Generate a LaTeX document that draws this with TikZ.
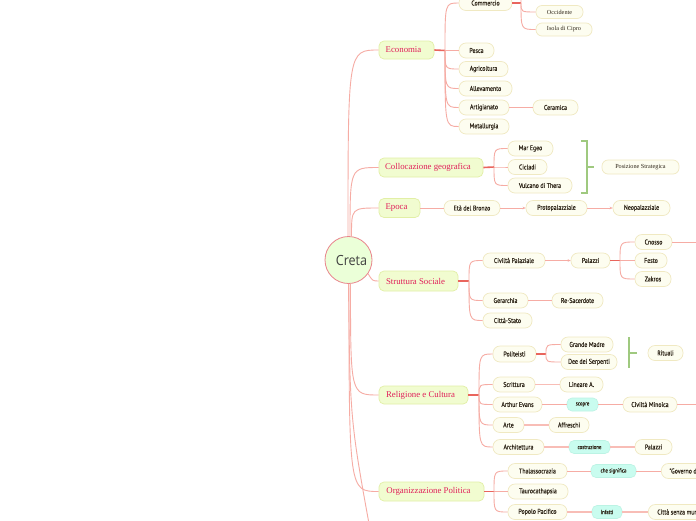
\documentclass[tikz,border=0pt]{standalone}
\usepackage{fontspec}
\setmainfont{Liberation Serif}
\newfontfamily\kidfont[FakeStretch=0.84,FakeBold=0.3]{PT Sans}
\newfontfamily\cretafont[FakeStretch=0.9]{Open Sans}
\usetikzlibrary{arrows.meta,calc}
\definecolor{kidfill}{HTML}{FDFDF0}
\definecolor{kidborder}{HTML}{F0E9C2}
\definecolor{kidtext}{HTML}{2E2518}
\definecolor{mainfill}{HTML}{F1FCD0}
\definecolor{mainborder}{HTML}{E2EFA6}
\definecolor{maintext}{HTML}{E01F5A}
\definecolor{cyanfill}{HTML}{C9FCEF}
\definecolor{cyanborder}{HTML}{BCF3E4}
\definecolor{linkpink}{HTML}{F6ACA4}
\definecolor{stubred}{HTML}{E9655D}
\definecolor{brgreen}{HTML}{9FC97F}
\definecolor{cretafill}{HTML}{EBFFD8}
\definecolor{cretaborder}{HTML}{E9848C}
\begin{document}
\begin{tikzpicture}[x=1pt,y=-1pt,
  kid/.style={draw=kidborder, fill=kidfill, rounded corners=7pt, minimum height=15pt, inner sep=0pt, line width=0.7pt, text=kidtext, font=\kidfont\fontsize{7}{8}\selectfont},
  skid/.style={kid, minimum height=13pt, rounded corners=6pt, font=\fontsize{6.2}{7}\selectfont},
  cy/.style={draw=cyanborder, fill=cyanfill, rounded corners=5pt, minimum height=13pt, inner sep=0pt, line width=0.6pt, text=kidtext, font=\kidfont\fontsize{5.8}{6}\selectfont},
  mainb/.style={draw=mainborder, fill=mainfill, rounded corners=5pt, minimum height=19pt, inner sep=0pt, line width=0.7pt, text=maintext, font=\fontsize{8.8}{10}\selectfont, execute at end node={\hspace*{6pt}}},
  conn/.style={draw=linkpink, line width=0.9pt},
  wconn/.style={draw=linkpink!80, line width=1.5pt},
  stub/.style={draw=stubred, line width=1.6pt},
  arr/.style={conn, -{Stealth[length=3pt,width=2.6pt]}},
  brk/.style={draw=brgreen, line width=1.1pt}]
\useasboundingbox (0,0) rectangle (696,520);
\fill[white] (0,0) rectangle (696,520);
\clip (0,0) rectangle (696,520);

% ---------- nodes ----------
\node[circle, draw=cretaborder, fill=cretafill, line width=0.8pt, minimum size=47pt, inner sep=0pt, text=black!75, font=\cretafont\fontsize{14}{16}\selectfont] (creta) at (348.5,260) {\hspace*{6pt}Creta};

\node[mainb, minimum width=55pt, minimum height=18pt] (eco) at (406.5,50) {Economia};
\node[mainb, minimum width=104pt] (col) at (431,167.5) {Collocazione geografica};
\node[mainb, minimum width=41pt] (epo) at (399.5,208) {Epoca};
\node[mainb, minimum width=79pt, minimum height=20pt] (ss) at (418.5,281) {Struttura Sociale};
\node[mainb, minimum width=89pt, minimum height=18pt] (rel) at (423.5,395) {Religione e Cultura};
\node[mainb, minimum width=105pt] (org) at (431.5,491.5) {Organizzazione Politica};

% Economia
\node[kid, minimum width=53pt] (com) at (485.5,3) {Commercio};
\node[kid, minimum width=35pt] (pes) at (476.5,50.5) {Pesca};
\node[kid, minimum width=49pt] (agr) at (483.5,69) {Agricoltura};
\node[kid, minimum width=53pt] (all) at (485.5,88.5) {Allevamento};
\node[kid, minimum width=50pt] (art) at (484,107.5) {Artigianato};
\node[kid, minimum width=50pt] (met) at (484,126.5) {Metallurgia};
\node[kid, minimum width=45pt] (cer) at (555.5,107.5) {Ceramica};
\node[skid, minimum width=39pt] (comtop) at (557.5,-7) {};
\node[skid, minimum width=47pt] (occ) at (559.5,12) {Occidente};
\node[skid, minimum width=56pt] (cip) at (564,29.5) {Isola di Cipro};

% Collocazione
\node[kid, minimum width=45pt] (mar) at (530.5,148.5) {Mar Egeo};
\node[kid, minimum width=39pt] (cic) at (527.5,167) {Cicladi};
\node[kid, minimum width=64pt] (vul) at (540,185.5) {Vulcano di Thera};
\node[skid, minimum width=77pt, minimum height=14pt] (pos) at (640.5,167) {Posizione Strategica};
\coordinate (b1t) at (587,141);
\coordinate (b1b) at (587,193);
\coordinate (b1m) at (587,167);

% Epoca
\node[kid, minimum width=56pt] (eta) at (472,208) {Età del Bronzo};
\node[kid, minimum width=61pt] (pro) at (556.5,208) {Protopalazziale};
\node[kid, minimum width=57pt] (neo) at (641.5,208) {Neopalazziale};

% Struttura Sociale
\node[kid, minimum width=62pt] (civ) at (514,260.5) {Civiltà Palaziale};
\node[kid, minimum width=39pt] (pal) at (590.5,260.5) {Palazzi};
\node[kid, minimum width=37pt] (cno) at (653.5,242) {Cnosso};
\node[kid, minimum width=32pt] (fes) at (651,260.5) {Festo};
\node[kid, minimum width=36pt] (zak) at (653,279) {Zakros};
\node[kid, minimum width=45pt] (ger) at (505.5,300.5) {Gerarchia};
\node[kid, minimum width=51pt] (re) at (577.5,300.5) {Re-Sacerdote};
\node[kid, minimum width=49pt] (cit) at (507.5,320.5) {Città-Stato};
\coordinate (cnoout) at (710,242);

% Religione e Cultura
\node[kid, minimum width=43pt, minimum height=16pt] (pol) at (514.5,354) {Politeisti};
\node[kid, minimum width=52pt] (gm) at (587,344.5) {Grande Madre};
\node[kid, minimum width=56pt] (dee) at (589,362) {Dee dei Serpenti};
\node[kid, minimum width=35pt] (rit) at (665.5,353) {Rituali};
\coordinate (b2t) at (629,337);
\coordinate (b2b) at (629,368);
\coordinate (b2m) at (629,353);
\node[kid, minimum width=42pt] (scr) at (514,384.5) {Scrittura};
\node[kid, minimum width=43pt] (lin) at (581.5,384.5) {Lineare A.};
\node[kid, minimum width=49pt] (eva) at (517.5,404.5) {Arthur Evans};
\node[cy, minimum width=31pt] (sco) at (582.5,404.5) {scopre};
\node[kid, minimum width=54pt] (min) at (650,404.5) {Civiltà Minoica};
\coordinate (minout) at (710,404.5);
\node[kid, minimum width=31pt] (arte) at (508.5,425) {Arte};
\node[kid, minimum width=40pt] (aff) at (569,425) {Affreschi};
\node[kid, minimum width=51pt] (arc) at (518.5,447) {Architettura};
\node[cy, minimum width=41pt] (cos) at (589.5,447) {costruzione};
\node[kid, minimum width=37pt] (pal2) at (653.5,447) {Palazzi};

% Organizzazione Politica
\node[kid, minimum width=59pt] (tha) at (537.5,471) {Thalassocrazia};
\node[cy, minimum width=45pt] (che) at (613.5,471) {che significa};
\node[kid, inner xsep=8pt, anchor=west] (gov) at (661,471) {"Governo dei mari"};
\node[kid, minimum width=60pt] (tau) at (538,491.5) {Taurocathapsia};
\node[kid, minimum width=59pt] (pop) at (537.5,512) {Popolo Pacifico};
\node[cy, minimum width=30pt] (inf) at (607,512) {Infatti};
\node[kid, inner xsep=9pt, anchor=west] (cm) at (648,512) {Città senza mura};

% junctions
\coordinate (jeco) at (445,50.5);
\coordinate (jcom) at (521,3);
\coordinate (jcol) at (494,167);
\coordinate (jss) at (469,281);
\coordinate (jpal) at (620,260.5);
\coordinate (jrel) at (479,395);
\coordinate (jpol) at (546,354);
\coordinate (jorg) at (494,491.5);
\coordinate (offbot) at (372,540);

% ---------- connectors ----------
% Creta to main branches
\draw[conn] ([xshift=-0.5pt]creta.north) .. controls ([xshift=-0.5pt]creta.north |- eco.west) .. (eco.west);
\draw[conn] ([xshift=1.5pt]creta.north) .. controls ([xshift=1.5pt]creta.north |- col.west) .. (col.west);
\draw[conn] ([xshift=3pt]creta.north) .. controls ([xshift=3pt]creta.north |- epo.west) .. (epo.west);
\draw[conn] (creta.-35) .. controls ($(ss.west)+(-6,0)$) .. (ss.west);
\draw[conn] ([xshift=2pt]creta.south) .. controls ([xshift=2pt]creta.south |- rel.west) .. (rel.west);
\draw[conn] ([xshift=0.5pt]creta.south) .. controls ([xshift=0.5pt]creta.south |- org.west) .. (org.west);
\draw[conn] (creta.south) .. controls (350,420) .. (offbot);

% Economia
\draw[stub] (eco.east) -- (jeco);
\foreach \c in {com,pes,agr,all,art,met} \draw[conn] (jeco) .. controls (jeco |- \c.west) .. (\c.west);
\draw[conn] (art.east) -- (cer.west);
\draw[stub] (com.east) -- (jcom);
\foreach \c in {comtop,occ,cip} \draw[conn] (jcom) .. controls (jcom |- \c.west) .. (\c.west);

% Collocazione
\draw[stub] (col.east) -- (jcol);
\foreach \c in {mar,cic,vul} \draw[conn] (jcol) .. controls (jcol |- \c.west) .. (\c.west);
\draw[brk] ($(b1t)+(-6,0)$) -- (b1t) -- (b1b) -- ($(b1b)+(-6,0)$);
\draw[brk] (b1m) -- ($(b1m)+(7,0)$);

% Epoca
\draw[conn] (epo.east) -- (eta.west);
\draw[arr] (eta.east) -- (pro.west);
\draw[arr] (pro.east) -- (neo.west);

% Struttura Sociale
\draw[stub] (ss.east) -- (jss);
\foreach \c in {civ,ger,cit} \draw[conn] (jss) .. controls (jss |- \c.west) .. (\c.west);
\draw[arr] (civ.east) -- (pal.west);
\draw[stub] (pal.east) -- (jpal);
\foreach \c in {cno,fes,zak} \draw[conn] (jpal) .. controls (jpal |- \c.west) .. (\c.west);
\draw[conn] (cno.east) -- (cnoout);
\draw[conn] (ger.east) -- (re.west);

% Religione e Cultura
\draw[stub] (rel.east) -- (jrel);
\foreach \c in {pol,scr,eva,arte,arc} \draw[conn] (jrel) .. controls (jrel |- \c.west) .. (\c.west);
\draw[stub] (pol.east) -- (jpol);
\foreach \c in {gm,dee} \draw[conn] (jpol) .. controls (jpol |- \c.west) .. (\c.west);
\draw[brk] (b2t) -- (b2b);
\draw[brk] (b2m) -- ($(b2m)+(8,0)$);
\draw[wconn] (scr.east) -- (lin.west);
\draw[conn] (eva.east) -- (sco.west);
\draw[conn] (sco.east) -- (min.west);
\draw[conn] (min.east) -- (minout);
\draw[wconn] (arte.east) -- (aff.west);
\draw[wconn] (arc.east) -- (cos.west);
\draw[wconn] (cos.east) -- (pal2.west);

% Organizzazione Politica
\draw[stub] (org.east) -- (jorg);
\foreach \c in {tha,tau,pop} \draw[conn] (jorg) .. controls (jorg |- \c.west) .. (\c.west);
\draw[conn] (tha.east) -- (che.west);
\draw[conn] (che.east) -- (gov.west);
\draw[wconn] (pop.east) -- (inf.west);
\draw[wconn] (inf.east) -- (cm.west);
\end{tikzpicture}
\end{document}
